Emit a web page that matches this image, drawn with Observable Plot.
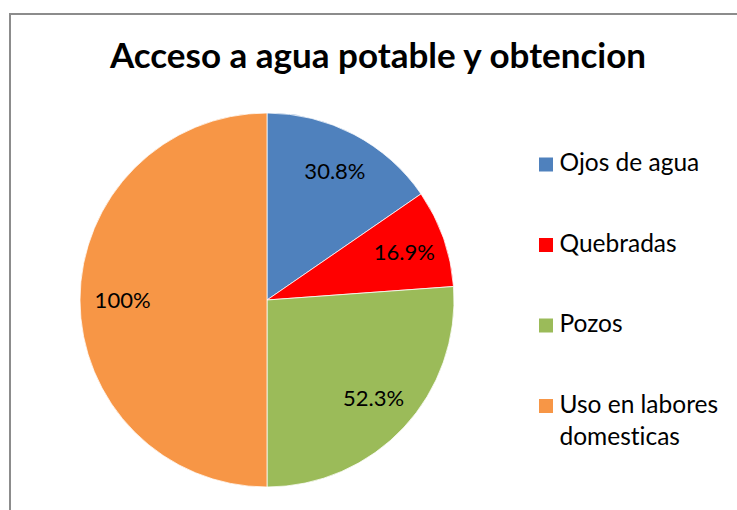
<!DOCTYPE html>
<html>
<head>
<meta charset="utf-8">
<script src="https://cdn.jsdelivr.net/npm/d3@7"></script>
<script src="https://cdn.jsdelivr.net/npm/@observablehq/plot@0.6"></script>
<style>
  html, body { margin: 0; padding: 0; background: #fff; width: 737px; height: 510px; overflow: hidden; font-variant-ligatures: none; }
  #frame { position: absolute; left: 9px; top: 13px; width: 900px; height: 700px; border: 2px solid #8c8c8c; box-sizing: border-box; }
  #title { position: absolute; left: 0; top: 34px; width: 756px; text-align: center; font-family: Lato, sans-serif; font-weight: 700; font-size: 35px; line-height: 40px; color: #000; white-space: nowrap; }
  #chart { position: absolute; left: 0; top: 95px; }
  #chart svg, #chart text { font-variant-ligatures: none; font-feature-settings: "liga" 0, "clig" 0; }
</style>
</head>
<body>
<div id="frame"></div>
<div id="title">Acceso a agua potable y obtencion</div>
<div id="chart"></div>
<script>
// ---- data ----
const categories = ["Ojos de agua", "Quebradas", "Pozos", "Uso en labores domesticas"];
const values = [30.8, 16.9, 52.3, 100];
const valueLabels = ["30.8%", "16.9%", "52.3%", "100%"];
const colors = ["#4F81BD", "#FF0000", "#9BBB59", "#F79646"];
const legendLines = [["Ojos de agua"], ["Quebradas"], ["Pozos"], ["Uso en labores", "domesticas"]];

// ---- layout ----
const W = 737, H = 415;
const cx = 267, cy = 205, R = 187;
const labelR = 0.775 * R;
const legX = 545.5, legY0 = 69, legStep = 80.5, legTextX = 559, legLine = 32;

const rows = categories.map((c, i) => ({category: c, value: values[i], label: valueLabels[i]}));
const arcs = d3.pie().sort(null).value(d => d.value)(rows);

const labelRows = arcs.map(a => {
  const m = (a.startAngle + a.endAngle) / 2;
  return {x: cx + labelR * Math.sin(m), y: cy - labelR * Math.cos(m), text: a.data.label};
});

const legendSquares = categories.map((c, i) => ({category: c, x: legX, y: legY0 + i * legStep}));
const legendText = [];
legendLines.forEach((lines, i) => lines.forEach((t, j) => legendText.push({x: legTextX, y: legY0 - 1 + i * legStep + j * legLine, text: t})));

const pieMark = (index, scales) => {
  const col = scales.color || d3.scaleOrdinal(categories, colors);
  const g = d3.create("svg:g")
    .attr("transform", `translate(${scales.x(cx)},${scales.y(cy)})`);
  const arc = d3.arc().innerRadius(0).outerRadius(R);
  g.selectAll("path").data(arcs).join("path")
    .attr("d", arc)
    .attr("fill", d => col(d.data.category))
    .attr("stroke", "#ffffff")
    .attr("stroke-width", 0.75);
  return g.node();
};

const chart = Plot.plot({
  width: W,
  height: H,
  margin: 0,
  style: {background: "transparent", fontFamily: "Lato, sans-serif", overflow: "visible", fontVariantLigatures: "none"},
  x: {domain: [0, W], range: [0, W], axis: null},
  y: {domain: [0, H], range: [0, H], axis: null},
  color: {domain: categories, range: colors},
  marks: [
    pieMark,
    Plot.text(labelRows, {x: "x", y: "y", text: "text", fontSize: 22, fill: "#000"}),
    Plot.dot(legendSquares, {x: "x", y: "y", symbol: "square", r: 14 / Math.sqrt(Math.PI), fill: "category", stroke: null}),
    Plot.text(legendText, {x: "x", y: "y", text: "text", textAnchor: "start", fontSize: 24.5, fill: "#000"})
  ]
});
document.getElementById("chart").appendChild(chart);
</script>
</body>
</html>
